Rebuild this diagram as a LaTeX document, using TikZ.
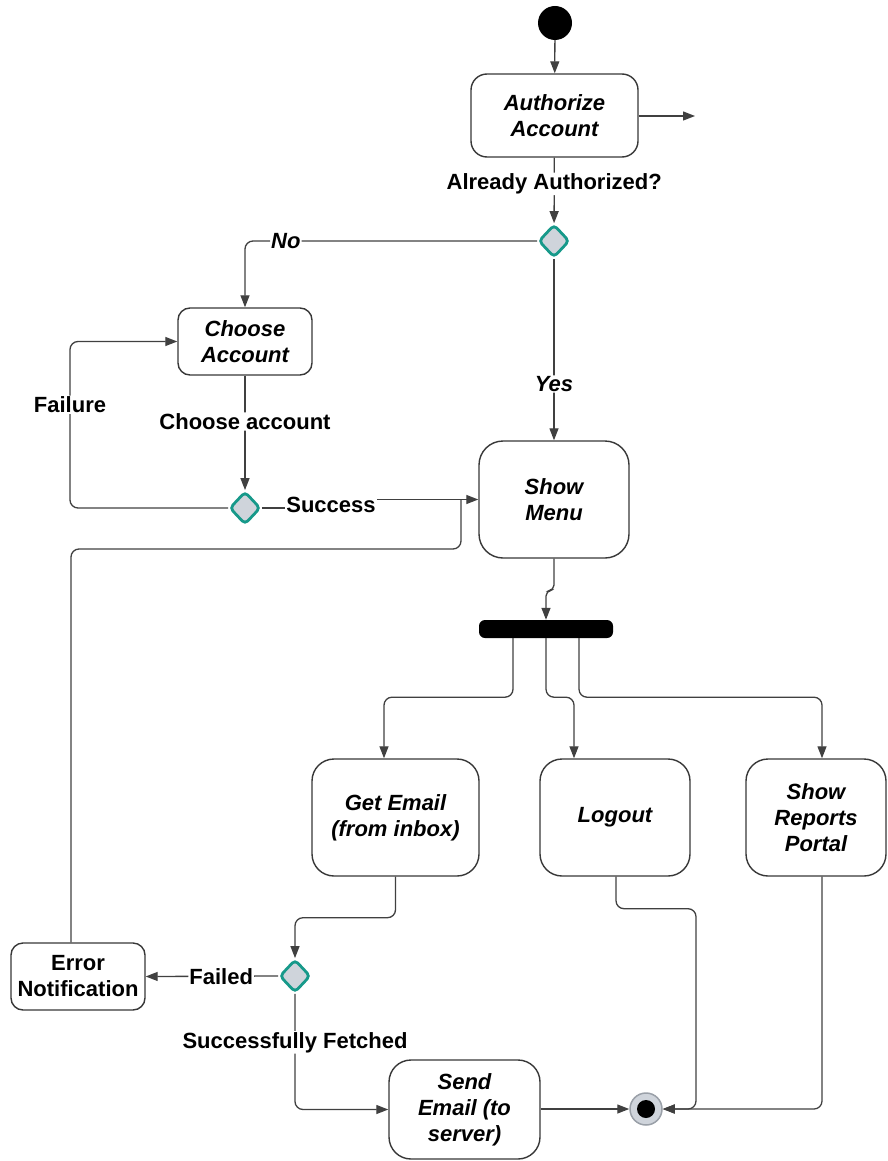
\documentclass[tikz,border=0pt]{standalone}
\usepackage{fontspec}
\setmainfont{Liberation Sans}
\usetikzlibrary{arrows.meta,shapes.geometric}
\definecolor{linec}{HTML}{404040}
\definecolor{boxc}{HTML}{383838}
\definecolor{decfill}{HTML}{CFD4DB}
\definecolor{decline}{HTML}{17998A}
\definecolor{endline}{HTML}{9AA0A8}
\newcommand\diagfont{\fontsize{22}{26}\selectfont\bfseries}
\tikzset{
  act/.style={draw=boxc, line width=1.4pt, rounded corners=16pt, align=center,
    font=\diagfont\itshape, inner sep=0pt, fill=white},
  plainact/.style={act, font=\diagfont, rounded corners=12pt},
  decision/.style={diamond, draw=decline, fill=decfill, line width=2.8pt,
    minimum width=31pt, minimum height=33pt, inner sep=0pt, rounded corners=4pt},
  conn/.style={draw=linec, line width=1.3pt, rounded corners=8pt},
  arr/.style={conn, -{Triangle[length=12pt,width=9pt]}},
  lab/.style={fill=white, inner sep=1pt, font=\diagfont, text=black},
  ilab/.style={lab, font=\diagfont\itshape}
}
\begin{document}
\begin{tikzpicture}[x=1pt, y=-1pt]
\useasboundingbox (0,0) rectangle (888,1161);

% start and end
\node[circle, fill=black, minimum size=34pt, inner sep=0pt] (start) at (555,23) {};
\node[circle, draw=endline, fill=decfill, line width=1.5pt, minimum size=32pt, inner sep=0pt] (final) at (646,1109) {};
\fill[black] (final.center) circle (9);

% activities
\node[act, minimum width=167pt, minimum height=83pt] (auth) at (554.5,115.5) {Authorize\\Account};
\node[act, rounded corners=12pt, minimum width=134pt, minimum height=67pt] (choose) at (245,341.5) {Choose\\Account};
\node[act, rounded corners=24pt, minimum width=150pt, minimum height=117pt] (menu) at (554,499.5) {Show\\Menu};
\node[act, rounded corners=22pt, minimum width=167pt, minimum height=117pt] (getmail) at (395.5,817.5) {Get Email\\(from inbox)};
\node[act, rounded corners=22pt, minimum width=150pt, minimum height=117pt] (logout) at (615,817.5) {Logout};
\node[act, rounded corners=22pt, minimum width=140pt, minimum height=117pt] (reports) at (816,817.5) {Show\\Reports\\Portal};
\node[plainact, minimum width=134pt, minimum height=67pt] (err) at (78,976.5) {Error\\Notification};
\node[act, rounded corners=22pt, minimum width=151pt, minimum height=99pt] (send) at (464.5,1109.5) {Send\\Email (to\\server)};

% decisions
\node[decision] (d1) at (554,241) {};
\node[decision] (d2) at (245,508) {};
\node[decision] (d3) at (295,976) {};

% fork bar
\node[fill=black, rounded corners=6pt, minimum width=134pt, minimum height=18pt, inner sep=0pt] (fork) at (546,629) {};

% dangling exit
\coordinate (exit) at (695,116);
\draw[arr] (auth.east |- exit) -- (exit);

% connectors
\draw[arr] (start) -- (auth);
\draw[arr] (auth) -- node[lab, pos=0.4] {Already Authorized?} (d1);
\draw[arr] (d1.west) -| node[ilab, pos=0.43] {No} (choose.north);
\draw[arr] (d1) -- node[ilab, pos=0.69] {Yes} (menu);
\draw[arr] (choose) -- node[lab, pos=0.4] {Choose account} (d2);
\draw[arr] (d2.west) -- (70,508) -- node[lab, pos=0.62] {Failure} (70,341.5) -- (choose.west);
\draw[conn] ([xshift=-7pt]err.north) |- (461,549) -- (461,499.5);
\draw[arr, rounded corners=0pt] (d2.east) -- (331,508) node[lab, yshift=3pt] {Success} |- (menu.west);
\draw[arr, rounded corners=5pt] (menu.south) -- (554,590) -- (546,591) -- (fork.north);
\draw[arr] ([xshift=-33pt]fork.south) -- ++(0,59) -| ([xshift=-11.5pt]getmail.north);
\draw[arr] (fork.south) -- ++(0,59) -| ([xshift=-41pt]logout.north);
\draw[arr] ([xshift=33pt]fork.south) -- ++(0,59) -| ([xshift=6pt]reports.north);
\draw[arr] (getmail.south) -- ++(0,41) -| (d3.north);
\draw[arr] (d3.west) -- node[lab, pos=0.43] {Failed} (err.east);
\draw[arr] (d3.south) |- node[lab, pos=0.21] {Successfully Fetched} (send.west);
\draw[arr] (send.east |- final) -- (final.west);
\draw[arr] ([xshift=1pt]logout.south) -- ++(0,32) -| (696,1109) -- (final.east);
\draw[arr] ([xshift=6pt]reports.south) |- (final.east);
\end{tikzpicture}
\end{document}
